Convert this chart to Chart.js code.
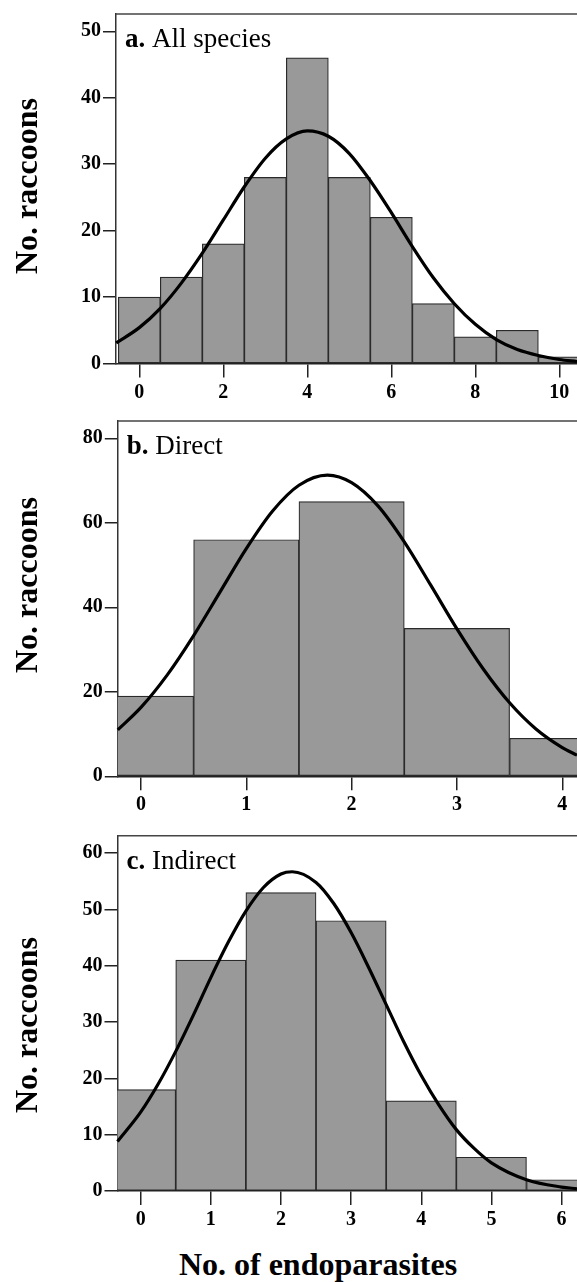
<!DOCTYPE html>
<html lang="en">
<head>
<meta charset="UTF-8">
<title>Endoparasites per raccoon</title>
<script src="https://cdn.jsdelivr.net/npm/chart.js"></script>
<style>
  body { margin: 0; background: #fff; }
  #wrap { position: relative; width: 577px; height: 1282px; overflow: hidden; }
  #wrap canvas { position: absolute; left: 0; }
  .ytitle {
    position: absolute; white-space: nowrap;
    font: bold 32px "Liberation Serif", "Times New Roman", serif;
    transform: translate(-50%, -50%) rotate(-90deg);
  }
  .xtitle {
    position: absolute; white-space: nowrap;
    font: bold 32px "Liberation Serif", "Times New Roman", serif;
    transform: translate(-50%, -50%);
  }
</style>
</head>
<body>
<div id="wrap">
  <canvas id="chartA" width="577" height="405" style="top:0px"></canvas>
  <canvas id="chartB" width="577" height="410" style="top:405px"></canvas>
  <canvas id="chartC" width="577" height="425" style="top:815px"></canvas>
  <div class="ytitle" style="left:26px; top:186px">No. raccoons</div>
  <div class="ytitle" style="left:26px; top:585px">No. raccoons</div>
  <div class="ytitle" style="left:26px; top:1025px">No. raccoons</div>
  <div class="xtitle" style="left:318px; top:1264px">No. of endoparasites</div>
</div>

<script>
// a. All species
const catsA = [0, 1, 2, 3, 4, 5, 6, 7, 8, 9, 10];
const countsA = [10, 13, 18, 28, 46, 28, 22, 9, 4, 5, 1];
const curveXA = [-0.55, 0, 0.5, 1, 1.5, 2, 2.5, 3, 3.5, 4, 4.5, 5, 5.5, 6, 6.5, 7, 7.5, 8, 8.5, 9, 9.5, 10, 10.42];
const curveYA = [3.1, 5.4, 8.3, 12.1, 16.6, 21.6, 26.6, 30.9, 33.8, 35.0, 34.2, 31.6, 27.5, 22.7, 17.6, 12.9, 9.0, 5.9, 3.6, 2.1, 1.2, 0.6, 0.3];
const xTicksA = [0, 2, 4, 6, 8, 10];
const yTicksA = [0, 10, 20, 30, 40, 50];

// b. Direct
const catsB = [0, 1, 2, 3, 4];
const countsB = [19, 56, 65, 35, 9];
const curveXB = [-0.22, 0, 0.25, 0.5, 0.75, 1, 1.25, 1.5, 1.77, 2, 2.25, 2.5, 2.75, 3, 3.25, 3.5, 3.75, 4, 4.14];
const curveYB = [11.0, 16.3, 24.0, 33.3, 43.6, 53.9, 62.8, 68.9, 71.3, 69.5, 64.0, 55.5, 45.3, 34.9, 25.4, 17.4, 11.2, 6.8, 5.0];
const xTicksB = [0, 1, 2, 3, 4];
const yTicksB = [0, 20, 40, 60, 80];

// c. Indirect
const catsC = [0, 1, 2, 3, 4, 5, 6];
const countsC = [18, 41, 53, 48, 16, 6, 2];
const curveXC = [-0.33, 0, 0.25, 0.5, 0.75, 1, 1.25, 1.5, 1.75, 2, 2.16, 2.5, 2.75, 3, 3.25, 3.5, 3.75, 4, 4.25, 4.5, 4.75, 5, 5.5, 6, 6.22];
const curveYC = [8.8, 14.0, 19.0, 24.8, 31.2, 37.9, 44.2, 49.7, 53.9, 56.3, 56.7, 54.8, 51.1, 45.9, 39.7, 33.1, 26.5, 20.5, 15.3, 10.9, 7.6, 5.0, 2.0, 0.7, 0.4];
const xTicksC = [0, 1, 2, 3, 4, 5, 6];
const yTicksC = [0, 10, 20, 30, 40, 50, 60];

const SERIF = '"Liberation Serif", "Times New Roman", serif';

// top frame line + panel letter/name
const panelPlugin = {
  id: 'panel',
  afterDatasetsDraw(chart, args, opts) {
    const { ctx, chartArea: a } = chart;
    ctx.save();
    ctx.strokeStyle = '#444';
    ctx.lineWidth = 1.5;
    ctx.beginPath();
    ctx.moveTo(a.left, a.top);
    ctx.lineTo(a.right, a.top);
    ctx.stroke();
    ctx.fillStyle = '#000';
    ctx.textBaseline = 'alphabetic';
    ctx.font = 'bold 27px ' + SERIF;
    ctx.fillText(opts.letter, a.left + 9, a.top + 33);
    const w = ctx.measureText(opts.letter).width;
    ctx.font = '27px ' + SERIF;
    ctx.fillText(' ' + opts.name, a.left + 9 + w, a.top + 33);
    ctx.restore();
  }
};

function makeChart(id, p) {
  const bars = p.cats.map((x, i) => ({ x: x, y: p.counts[i] }));
  const curve = p.curveX.map((x, i) => ({ x: x, y: p.curveY[i] }));
  return new Chart(document.getElementById(id), {
    type: 'bar',
    data: {
      datasets: [
        {
          type: 'line',
          data: curve,
          borderColor: '#000',
          borderWidth: 3.2,
          pointRadius: 0,
          cubicInterpolationMode: 'monotone',
          fill: false,
          order: 1,
          clip: 2
        },
        {
          type: 'bar',
          data: bars,
          backgroundColor: '#999999',
          borderColor: '#2a2a2a',
          borderWidth: 1.2,
          borderSkipped: false,
          barPercentage: 1,
          categoryPercentage: 1,
          order: 2,
          clip: 0
        }
      ]
    },
    options: {
      responsive: false,
      animation: false,
      layout: { padding: { top: p.padTop, left: 0, right: 0, bottom: 0 } },
      plugins: {
        legend: { display: false },
        tooltip: { enabled: false },
        panel: { letter: p.letter, name: p.name }
      },
      scales: {
        x: {
          type: 'linear',
          min: p.xMin,
          max: p.xMax,
          offset: false,
          afterFit: s => { s.height = p.xh; },
          afterBuildTicks: s => { s.ticks = p.xTicks.map(v => ({ value: v })); },
          grid: { offset: false, drawOnChartArea: false, drawTicks: true, tickLength: 14, tickColor: '#222', lineWidth: 1.5 },
          border: { display: true, color: '#222', width: 1.5 },
          ticks: { color: '#000', padding: 3, maxRotation: 0, font: { family: SERIF, size: 20, weight: 'bold' } }
        },
        y: {
          type: 'linear',
          min: 0,
          max: p.yMax,
          afterFit: s => { s.width = p.yw; },
          afterBuildTicks: s => { s.ticks = p.yTicks.map(v => ({ value: v })); },
          grid: { drawOnChartArea: false, drawTicks: true, tickLength: 13, tickColor: '#222', lineWidth: 1.5 },
          border: { display: true, color: '#333', width: 1.5 },
          ticks: { color: '#000', padding: 2, font: { family: SERIF, size: 20, weight: 'bold' } }
        }
      }
    },
    plugins: [panelPlugin]
  });
}

makeChart('chartA', {
  cats: catsA, counts: countsA, curveX: curveXA, curveY: curveYA,
  xTicks: xTicksA, yTicks: yTicksA, letter: 'a.', name: 'All species',
  xMin: -0.555, xMax: 10.42, yMax: 52.6,
  padTop: 7.5, yw: 116, xh: 41.5
});
makeChart('chartB', {
  cats: catsB, counts: countsB, curveX: curveXB, curveY: curveYB,
  xTicks: xTicksB, yTicks: yTicksB, letter: 'b.', name: 'Direct',
  xMin: -0.22, xMax: 4.14, yMax: 84.1,
  padTop: 16, yw: 117.8, xh: 38.7
});
makeChart('chartC', {
  cats: catsC, counts: countsC, curveX: curveXC, curveY: curveYC,
  xTicks: xTicksC, yTicks: yTicksC, letter: 'c.', name: 'Indirect',
  xMin: -0.33, xMax: 6.22, yMax: 63.1,
  padTop: 20.7, yw: 117.5, xh: 49
});
</script>
</body>
</html>
